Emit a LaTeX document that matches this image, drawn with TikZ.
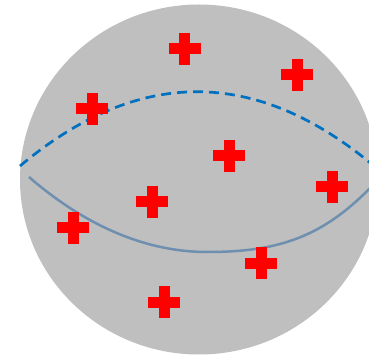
\documentclass[tikz,border=0pt]{standalone}
\definecolor{spheregray}{RGB}{191,191,191}
\definecolor{backblue}{RGB}{0,112,192}
\definecolor{frontblue}{RGB}{110,143,175}
\definecolor{crossred}{RGB}{255,0,0}
\begin{document}
\begin{tikzpicture}[x=1pt,y=-1pt,
  redcross/.pic={\fill[crossred] (-16,-5.5) rectangle (16,5.5); \fill[crossred] (-5.5,-16) rectangle (5.5,16);},
  frontline/.style={draw=frontblue, line width=2.5pt},
  backline/.style={draw=backblue, line width=2.7pt, dash pattern=on 10pt off 6pt}]
\useasboundingbox (0,0) rectangle (369,355);
\clip (0,0) rectangle (369,355);
\fill[spheregray] (199,179.5) ellipse [x radius=179, y radius=175];
\draw[backline] (20,166) .. controls (138,67) and (256,67) .. (374,166);
\draw[frontline] (29,177) .. controls (89,229) and (150,252) .. (207,252) .. controls (277,252) and (322,238) .. (372,186);
\pic at (184.5,48.7) {redcross};
\pic at (297,75) {redcross};
\pic at (92,109) {redcross};
\pic at (229,156) {redcross};
\pic at (332.2,186.7) {redcross};
\pic at (152,202) {redcross};
\pic at (73,228) {redcross};
\pic at (261,263) {redcross};
\pic at (164,302) {redcross};
\end{tikzpicture}
\end{document}
